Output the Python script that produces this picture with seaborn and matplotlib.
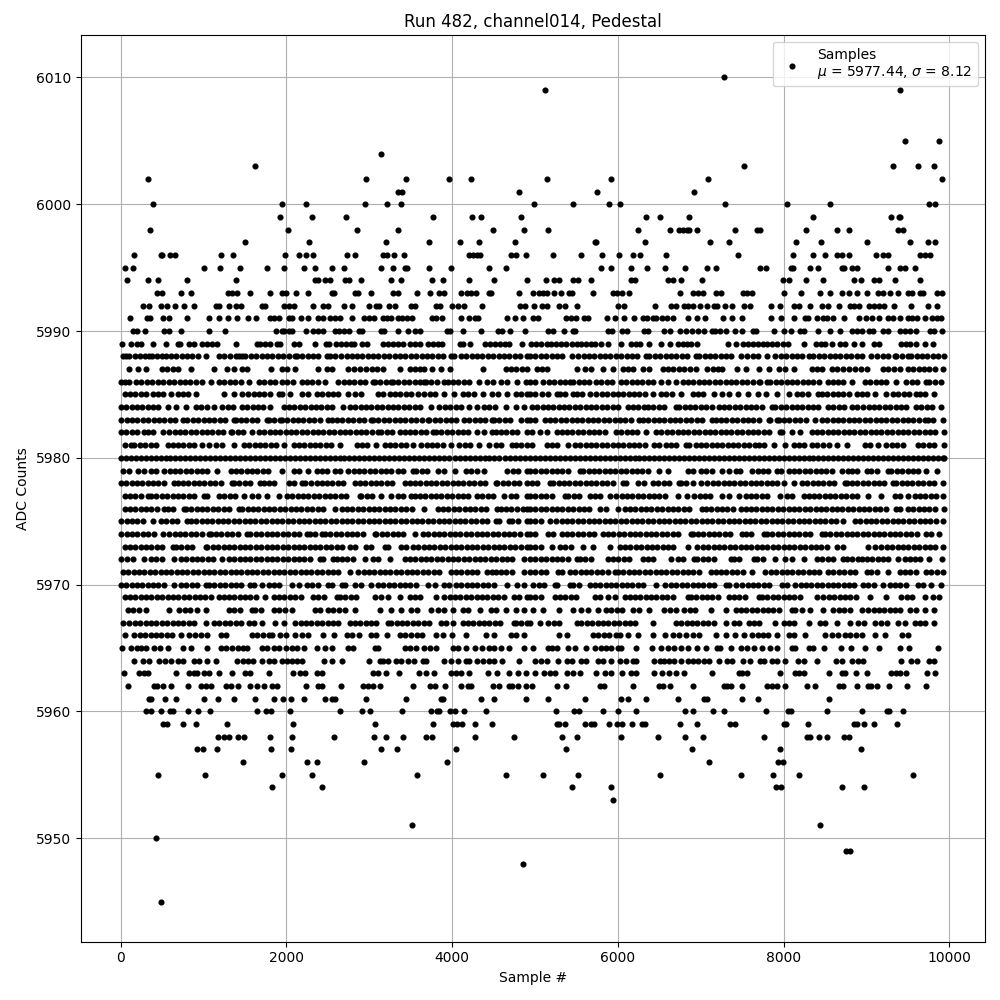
import pandas as pd
import seaborn as sns
import matplotlib
matplotlib.use('Agg')
import matplotlib.pyplot as plt

# sample numbers per ADC level
# (the dense rows are estimates, the real chart has far more overlapping points)
s6010 = [7277]
s6009 = [5120, 9410]
s6005 = [9460, 9870]
s6004 = [3145]
s6003 = [1625, 7520, 9315, 9625, 9820]
s6002 = [325, 2965, 3445, 3965, 4230, 5145, 5915, 7085, 9915]
s6001 = [3345, 3400, 4805, 5745, 6915]
s6000 = [385, 1950, 2240, 2950, 3215, 3385, 4990, 5460, 5890, 6025, 7290, 8035, 8565, 9760, 9830]
s5999 = [1925, 2310, 2720, 3770, 4240, 4350, 4830, 6340, 6505, 6855, 8360, 9300, 9390, 9400]
s5998 = [350, 2020, 2855, 3345, 4495, 4865, 5150, 6240, 6625, 6735, 6785, 6830, 6860, 6950, 7410, 7675, 7720, 8265, 8640, 8785, 9385, 9435]
s5997 = [1505, 2270, 3205, 3720, 4095, 4325, 4760, 5725, 5735, 6325, 7110, 7335, 8155, 8445, 9000, 9530, 9745, 9830]
s5996 = [155, 480, 495, 600, 650, 1215, 1360, 1985, 2155, 2230, 2325, 2735, 2830, 3170, 3215, 3300, 3420, 4205, 4255, 4300, 4335, 4710, 4770, 4890, 5215, 5555, 5805, 6010, 6180, 6265, 6580, 7445, 8110, 8350, 8505, 8640, 8700, 8785, 9110, 9195, 9265, 9650, 9700, 9770]
s5995 = [50, 145, 1000, 1195, 1435, 1760, 1965, 2215, 2340, 2555, 2690, 3135, 3280, 3435, 3460, 3725, 3990, 4445, 4650, 5795, 5915, 6155, 6350, 6565, 6805, 7070, 7180, 7710, 7785, 8085, 8110, 8315, 8410, 8700, 8725, 8830, 8880, 9265, 9410, 9460, 9580]
s5994 = [70, 325, 445, 805, 1385, 2345, 2375, 2470, 2530, 2710, 2760, 2900, 3265, 3385, 3760, 3890, 4205, 4510, 4900, 5130, 5230, 5290, 5460, 5520, 5675, 6155, 6205, 6600, 6660, 6760, 7010, 7990, 8060, 8265, 8480, 8855, 8930, 9095, 9145, 9340, 9650]
s5993 = [435, 495, 725, 845, 1290, 1340, 1400, 1565, 1795, 1940, 1990, 2120, 2265, 2545, 2570, 2830, 2860, 3025, 3290, 3340, 3580, 3735, 3835, 3905, 4110, 4180, 4230, 4290, 4445, 4470, 4805, 4976, 5048, 5096, 5145, 5230, 5315, 5410, 5445, 5700, 5940, 5990, 6050, 6135, 6745, 6905, 6965, 7025, 7180, 7240, 7505, 7555, 7615, 8010, 8215, 8435, 8565, 8700, 8785, 8880, 9000, 9135, 9195, 9280, 9375, 9495, 9545, 9640, 9685, 9855, 9915]
s5992 = [265, 335, 480, 555, 650, 760, 880, 1145, 1190, 1310, 1395, 1445, 1710, 1745, 1975, 2025, 2095, 2325, 2435, 2495, 2700, 2785, 3000, 3085, 3120, 3240, 3315, 3505, 3555, 3810, 3855, 4000, 4075, 4145, 4360, 4820, 4880, 4990, 5085, 5145, 5290, 5360, 5505, 6000, 6070, 6445, 6640, 6700, 6795, 6845, 6905, 6990, 7075, 7155, 7195, 7290, 7375, 7520, 7590, 7845, 7950, 8130, 8180, 8315, 8460, 8540, 8665, 8805, 8845, 8910, 9035, 9095, 9155, 9215, 9330, 9540, 9745, 9845]
s5991 = [110, 315, 350, 505, 580, 805, 1060, 1180, 1290, 1400, 1540, 1630, 1795, 1845, 1915, 2035, 2070, 2180, 2265, 2385, 2445, 2520, 2590, 2640, 2785, 2940, 3000, 3060, 3160, 3215, 3265, 3340, 3400, 3460, 3520, 3760, 3810, 3880, 4110, 4205, 4280, 4315, 4665, 4760, 4855, 4975, 5035, 5375, 5435, 5495, 5590, 5640, 5870, 5965, 6070, 6195, 6300, 6350, 6420, 6455, 6530, 6590, 6660, 6845, 6950, 7050, 7265, 7375, 7495, 7845, 7965, 8120, 8255, 8290, 8400, 8480, 8520, 8590, 8725, 8905, 8990, 9070, 9145, 9265, 9315, 9400, 9505, 9555, 9615, 9700, 9795, 9855, 9905]
s5990 = [145, 195, 290, 520, 580, 725, 1060, 1255, 1870, 1940, 1975, 2025, 2070, 2240, 2315, 2375, 2435, 2580, 2630, 2700, 2750, 2870, 2915, 3145, 3180, 3340, 3470, 3545, 3615, 3940, 3975, 4130, 4345, 4555, 4605, 4700, 4880, 5155, 5215, 5350, 5460, 5485, 5880, 5930, 6050, 6110, 6315, 6360, 6555, 6625, 6745, 6820, 6890, 6965, 7035, 7130, 7170, 7230, 7300, 7410, 7495, 7625, 7665, 7880, 8010, 8085, 8195, 8240, 8410, 8565, 8685, 8820, 8880, 8950, 9025, 9075, 9205, 9265, 9410, 9470, 9530, 9600, 9770, 9820, 9915]
s5989 = [20, 120, 190, 240, 385, 540, 685, 710, 820, 880, 975, 1035, 1095, 1165, 1385, 1640, 1675, 1735, 1805, 1880, 1925, 2095, 2145, 2345, 2480, 2515, 2600, 2660, 2720, 2780, 2820, 2915, 2975, 3165, 3225, 3285, 3345, 3410, 3490, 3555, 3615, 3710, 3770, 3830, 3880, 4095, 4130, 4215, 4395, 4455, 4515, 4575, 4635, 4685, 4840, 4955, 5015, 5075, 5145, 5195, 5255, 5315, 5375, 5440, 5500, 5560, 5620, 5680, 5725, 5795, 5880, 6035, 6155, 6215, 6265, 6375, 6520, 6625, 6725, 6785, 6830, 6880, 6950, 7325, 7420, 7505, 7565, 7625, 7685, 7745, 7805, 7865, 7925, 7990, 8050, 8240, 8385, 8445, 8505, 8580, 8685, 8745, 8855, 8950, 9085, 9145, 9420, 9480, 9530, 9600, 9710, 9805]
s5988 = [25, 65, 105, 170, 235, 290, 345, 375, 440, 495, 545, 605, 670, 735, 800, 865, 930, 1025, 1185, 1250, 1320, 1385, 1425, 1465, 1505, 1570, 1635, 1700, 1765, 1830, 1895, 1960, 2025, 2105, 2125, 2190, 2255, 2320, 2385, 2485, 2525, 2590, 2655, 2725, 2785, 2850, 2915, 2980, 3045, 3110, 3175, 3240, 3305, 3370, 3435, 3500, 3565, 3630, 3695, 3760, 3825, 3890, 3985, 4025, 4105, 4170, 4235, 4300, 4365, 4430, 4495, 4560, 4625, 4690, 4755, 4820, 4905, 4940, 5005, 5070, 5135, 5200, 5265, 5330, 5440, 5520, 5585, 5650, 5715, 5780, 5845, 5910, 5975, 6040, 6105, 6170, 6235, 6340, 6380, 6445, 6510, 6575, 6640, 6705, 6770, 6835, 6940, 6980, 7045, 7110, 7175, 7240, 7305, 7370, 7480, 7560, 7625, 7690, 7800, 7900, 7965, 8030, 8095, 8160, 8225, 8300, 8360, 8425, 8490, 8555, 8620, 8685, 8750, 8815, 8880, 8945, 9060, 9125, 9200, 9260, 9340, 9360, 9430, 9500, 9540, 9605, 9670, 9735, 9800, 9865, 9940]
s5987 = [105, 205, 310, 500, 560, 625, 685, 850, 1130, 1285, 1365, 1465, 1525, 1810, 1945, 2010, 2105, 2385, 2485, 2545, 2745, 2810, 2885, 2965, 3030, 3095, 3165, 3365, 3485, 3550, 3615, 3665, 3755, 3865, 3970, 4370, 4645, 4710, 4775, 4840, 4905, 5020, 5085, 5140, 5500, 5600, 5680, 5820, 5940, 6060, 6125, 6180, 6300, 6380, 6540, 6605, 6670, 6735, 6800, 6865, 6940, 7080, 7145, 7210, 7260, 7440, 7540, 7700, 7820, 7940, 8020, 8120, 8340, 8400, 8460, 8580, 8640, 8720, 8790, 8860, 8930, 9000, 9200, 9265, 9330, 9400, 9500, 9565, 9630, 9695, 9760, 9825, 9920]
s5986 = [0, 50, 100, 185, 250, 315, 380, 445, 510, 585, 645, 710, 775, 840, 905, 985, 1085, 1185, 1250, 1315, 1380, 1445, 1545, 1665, 1730, 1795, 1865, 1945, 2010, 2075, 2185, 2245, 2310, 2375, 2465, 2625, 2690, 2755, 2820, 2885, 2950, 3045, 3065, 3130, 3195, 3265, 3285, 3350, 3415, 3480, 3545, 3610, 3665, 3685, 3750, 3815, 3905, 3945, 4010, 4075, 4140, 4205, 4325, 4425, 4490, 4585, 4665, 4785, 4885, 4940, 5000, 5100, 5165, 5230, 5295, 5360, 5420, 5460, 5525, 5590, 5655, 5740, 5800, 5865, 5930, 6040, 6100, 6165, 6230, 6295, 6360, 6425, 6520, 6600, 6700, 6780, 6845, 6910, 6975, 7040, 7105, 7170, 7235, 7300, 7365, 7430, 7495, 7560, 7625, 7700, 7720, 7800, 7840, 7905, 7970, 8035, 8100, 8165, 8230, 8295, 8360, 8425, 8540, 8600, 8660, 8720, 8820, 8980, 9045, 9110, 9180, 9240, 9360, 9480, 9545, 9610, 9720, 9760, 9825, 9900]
s5985 = [45, 110, 175, 245, 305, 385, 445, 510, 605, 685, 750, 815, 905, 1245, 1365, 1465, 1530, 1605, 1665, 1730, 1795, 1905, 1945, 2045, 2185, 2265, 2365, 2430, 2495, 2560, 2625, 2745, 2825, 2905, 3105, 3165, 3245, 3310, 3375, 3440, 3505, 3585, 3665, 3730, 3795, 3905, 4025, 4125, 4190, 4265, 4370, 4485, 4550, 4665, 4765, 4830, 4905, 4940, 5005, 5080, 5160, 5260, 5300, 5365, 5460, 5500, 5565, 5660, 5740, 5805, 5870, 5935, 6000, 6065, 6130, 6195, 6260, 6325, 6420, 6520, 6585, 6650, 6760, 6900, 6965, 7030, 7160, 7260, 7340, 7450, 7570, 7685, 7790, 7920, 8060, 8160, 8225, 8290, 8420, 8460, 8525, 8590, 8655, 8720, 8785, 8880, 8940, 9005, 9100, 9230, 9320, 9385, 9450, 9515, 9600, 9640, 9705, 9820]
s5984 = [0, 65, 130, 195, 260, 325, 390, 455, 565, 670, 790, 905, 970, 1045, 1125, 1225, 1290, 1355, 1465, 1525, 1590, 1655, 1720, 1805, 1965, 2030, 2095, 2160, 2225, 2290, 2355, 2420, 2485, 2550, 2685, 2765, 2830, 2895, 2960, 3025, 3090, 3155, 3220, 3285, 3350, 3415, 3480, 3545, 3610, 3745, 3845, 3910, 3975, 4040, 4105, 4205, 4295, 4385, 4450, 4515, 4645, 4765, 4865, 4960, 5025, 5090, 5155, 5220, 5285, 5350, 5415, 5480, 5545, 5610, 5675, 5740, 5805, 5870, 5935, 6000, 6120, 6180, 6245, 6320, 6360, 6425, 6490, 6555, 6700, 6740, 6805, 6870, 6935, 7000, 7065, 7130, 7220, 7280, 7345, 7410, 7475, 7540, 7605, 7670, 7735, 7860, 7900, 7965, 8030, 8095, 8160, 8225, 8290, 8355, 8420, 8540, 8600, 8665, 8730, 8820, 8880, 8960, 9025, 9090, 9155, 9220, 9285, 9350, 9415, 9480, 9600, 9660, 9725, 9790, 9900]
s5983 = [5, 70, 135, 200, 265, 330, 395, 460, 525, 590, 655, 745, 805, 870, 935, 1000, 1065, 1130, 1195, 1260, 1365, 1385, 1450, 1515, 1580, 1645, 1765, 1785, 1850, 1925, 1945, 2010, 2075, 2140, 2205, 2270, 2335, 2400, 2505, 2545, 2610, 2675, 2740, 2805, 2870, 2935, 3025, 3045, 3110, 3175, 3240, 3305, 3370, 3435, 3500, 3565, 3630, 3705, 3725, 3790, 3855, 3920, 3985, 4050, 4145, 4205, 4270, 4335, 4400, 4485, 4505, 4570, 4635, 4700, 4825, 4905, 4940, 5005, 5120, 5180, 5245, 5310, 5375, 5440, 5505, 5570, 5635, 5700, 5765, 5830, 5895, 5960, 6025, 6090, 6155, 6260, 6300, 6365, 6430, 6495, 6560, 6625, 6690, 6755, 6820, 6885, 6950, 7015, 7140, 7180, 7245, 7310, 7375, 7440, 7505, 7570, 7635, 7700, 7820, 7840, 7920, 7940, 8005, 8070, 8135, 8200, 8265, 8380, 8460, 8525, 8590, 8655, 8720, 8785, 8850, 8915, 8980, 9045, 9110, 9175, 9240, 9305, 9370, 9435, 9500, 9565, 9630, 9700, 9740, 9805, 9920]
s5982 = [0, 65, 130, 195, 285, 325, 390, 505, 585, 650, 715, 780, 845, 910, 975, 1040, 1105, 1170, 1235, 1325, 1345, 1410, 1475, 1585, 1665, 1730, 1795, 1860, 1925, 1990, 2055, 2120, 2185, 2250, 2315, 2380, 2445, 2510, 2575, 2640, 2705, 2770, 2835, 2900, 2965, 3030, 3105, 3145, 3210, 3275, 3365, 3425, 3490, 3555, 3620, 3685, 3765, 3805, 3870, 3935, 4000, 4065, 4130, 4195, 4305, 4385, 4485, 4525, 4590, 4655, 4720, 4785, 4905, 4960, 5060, 5140, 5260, 5320, 5385, 5450, 5515, 5580, 5645, 5710, 5775, 5840, 5980, 6040, 6105, 6170, 6235, 6340, 6460, 6525, 6590, 6655, 6720, 6785, 6850, 6915, 6980, 7045, 7110, 7175, 7240, 7305, 7370, 7435, 7500, 7565, 7630, 7695, 7760, 7825, 7960, 7980, 8100, 8200, 8340, 8400, 8465, 8530, 8595, 8660, 8725, 8790, 8855, 8920, 8985, 9050, 9115, 9180, 9245, 9310, 9375, 9440, 9505, 9570, 9635, 9700, 9765, 9830, 9940]
s5981 = [45, 125, 165, 230, 295, 360, 425, 565, 625, 690, 755, 820, 885, 985, 1065, 1145, 1225, 1365, 1485, 1550, 1615, 1680, 1745, 1810, 1875, 1965, 2085, 2150, 2215, 2280, 2345, 2410, 2475, 2540, 2645, 2845, 2910, 2975, 3085, 3185, 3250, 3315, 3380, 3445, 3525, 3625, 3690, 3755, 3820, 3885, 3985, 4085, 4150, 4215, 4325, 4445, 4525, 4590, 4725, 4765, 4830, 4905, 4960, 5140, 5205, 5270, 5400, 5480, 5545, 5610, 5675, 5740, 5805, 5870, 5935, 6000, 6065, 6130, 6195, 6260, 6325, 6440, 6500, 6580, 6640, 6705, 6820, 6860, 6940, 7000, 7065, 7130, 7195, 7260, 7325, 7390, 7455, 7520, 7585, 7660, 7700, 7765, 7880, 8020, 8120, 8185, 8250, 8340, 8400, 8480, 8545, 8640, 8760, 8980, 9045, 9140, 9240, 9305, 9370, 9440, 9620, 9685, 9750, 9815, 9940]
s5980 = [0, 60, 120, 180, 240, 300, 360, 420, 480, 540, 600, 660, 720, 780, 840, 900, 960, 1020, 1080, 1140, 1200, 1260, 1320, 1380, 1440, 1500, 1560, 1620, 1680, 1740, 1800, 1860, 1920, 1980, 2040, 2100, 2160, 2220, 2280, 2340, 2400, 2460, 2520, 2580, 2640, 2700, 2760, 2820, 2880, 2940, 3000, 3060, 3120, 3180, 3240, 3300, 3360, 3420, 3480, 3540, 3600, 3660, 3720, 3780, 3840, 3900, 3960, 4030, 4090, 4150, 4210, 4270, 4330, 4390, 4450, 4510, 4570, 4640, 4700, 4760, 4820, 4880, 4940, 5000, 5060, 5120, 5180, 5240, 5300, 5360, 5420, 5480, 5540, 5600, 5660, 5720, 5780, 5840, 5900, 5960, 6020, 6080, 6140, 6200, 6260, 6320, 6380, 6440, 6500, 6560, 6620, 6680, 6740, 6800, 6860, 6920, 6980, 7040, 7100, 7160, 7220, 7280, 7340, 7400, 7460, 7520, 7580, 7640, 7700, 7760, 7820, 7880, 7940, 8000, 8060, 8120, 8180, 8240, 8300, 8360, 8420, 8480, 8540, 8600, 8660, 8720, 8780, 8840, 8900, 8960, 9020, 9080, 9140, 9200, 9260, 9320, 9380, 9440, 9500, 9560, 9620, 9680, 9740, 9800, 9860, 9920, 9940]
s5979 = [25, 105, 205, 285, 365, 425, 525, 590, 655, 720, 785, 850, 915, 980, 1045, 1165, 1325, 1390, 1455, 1520, 1585, 1650, 1715, 1780, 1945, 2085, 2150, 2265, 2365, 2425, 2485, 2585, 2650, 2745, 2810, 2875, 2940, 3005, 3070, 3135, 3200, 3265, 3345, 3405, 3525, 3565, 3630, 3695, 3825, 3905, 4030, 4165, 4230, 4295, 4385, 4665, 4730, 4795, 4905, 4940, 5005, 5070, 5135, 5200, 5265, 5330, 5395, 5540, 5580, 5645, 5710, 5775, 5840, 5905, 5970, 6035, 6100, 6165, 6230, 6295, 6360, 6500, 6610, 6840, 6900, 7000, 7065, 7130, 7260, 7340, 7420, 7470, 7620, 7685, 7750, 7815, 7920, 7970, 8060, 8125, 8190, 8255, 8320, 8385, 8450, 8515, 8580, 8700, 8780, 8820, 8885, 9000, 9060, 9125, 9260, 9300, 9365, 9430, 9495, 9560, 9625, 9720, 9850]
s5978 = [0, 65, 130, 195, 260, 325, 390, 455, 520, 645, 685, 750, 815, 880, 945, 1010, 1075, 1140, 1205, 1345, 1365, 1430, 1495, 1560, 1685, 1725, 1790, 1855, 2025, 2085, 2185, 2225, 2290, 2365, 2425, 2490, 2555, 2620, 2685, 2825, 2885, 2950, 3015, 3080, 3145, 3210, 3275, 3425, 3485, 3550, 3615, 3680, 3745, 3810, 3875, 3940, 4005, 4070, 4135, 4200, 4265, 4330, 4395, 4525, 4545, 4610, 4675, 4740, 4805, 4905, 4960, 5025, 5180, 5220, 5285, 5350, 5415, 5480, 5545, 5610, 5675, 5740, 5805, 5870, 5935, 6060, 6100, 6240, 6310, 6420, 6485, 6550, 6615, 6740, 6760, 6825, 6900, 7000, 7080, 7145, 7210, 7275, 7340, 7405, 7470, 7535, 7600, 7665, 7730, 7795, 7860, 7925, 8000, 8120, 8220, 8285, 8350, 8415, 8480, 8545, 8610, 8740, 8760, 8825, 8890, 8955, 9020, 9085, 9150, 9215, 9320, 9360, 9425, 9490, 9555, 9620, 9685, 9750, 9815, 9920]
s5977 = [45, 110, 175, 240, 325, 365, 430, 495, 560, 625, 690, 755, 820, 885, 1005, 1045, 1185, 1250, 1315, 1380, 1485, 1585, 1655, 1765, 1905, 2005, 2070, 2135, 2200, 2265, 2330, 2395, 2460, 2525, 2590, 2655, 2720, 2885, 2905, 2970, 3035, 3145, 3265, 3345, 3410, 3505, 3545, 3610, 3675, 3740, 3805, 3870, 3935, 4000, 4065, 4130, 4195, 4305, 4365, 4430, 4495, 4625, 4705, 4770, 4905, 4940, 5005, 5070, 5135, 5200, 5360, 5400, 5465, 5530, 5660, 5720, 5785, 5900, 5980, 6045, 6110, 6175, 6240, 6305, 6370, 6435, 6500, 6565, 6720, 6830, 6920, 6985, 7050, 7115, 7260, 7340, 7460, 7540, 7605, 7670, 7735, 7800, 7960, 8040, 8105, 8240, 8300, 8365, 8430, 8495, 8560, 8625, 8690, 8755, 8820, 8885, 9020, 9180, 9340, 9405, 9500, 9580, 9645, 9710, 9775, 9840, 9920]
s5976 = [45, 110, 175, 240, 305, 370, 435, 525, 565, 630, 765, 785, 850, 915, 980, 1045, 1110, 1175, 1240, 1305, 1425, 1465, 1530, 1595, 1660, 1725, 1790, 1855, 1920, 1985, 2050, 2115, 2180, 2245, 2310, 2375, 2440, 2585, 2665, 2730, 2795, 2860, 2925, 2990, 3055, 3120, 3185, 3250, 3315, 3380, 3445, 3510, 3665, 3825, 3890, 3955, 4020, 4085, 4150, 4215, 4280, 4345, 4410, 4545, 4585, 4645, 4705, 4785, 4850, 4905, 4940, 5005, 5070, 5135, 5200, 5265, 5330, 5395, 5460, 5525, 5590, 5655, 5780, 5860, 6000, 6080, 6145, 6210, 6275, 6340, 6405, 6470, 6535, 6600, 6665, 6730, 6795, 6860, 7020, 7060, 7125, 7190, 7255, 7320, 7385, 7480, 7540, 7605, 7670, 7735, 7800, 7865, 7930, 7995, 8060, 8125, 8190, 8255, 8320, 8385, 8450, 8515, 8580, 8645, 8710, 8775, 8840, 8905, 8970, 9035, 9100, 9165, 9230, 9360, 9400, 9500, 9565, 9630, 9695, 9760, 9825, 9940]
s5975 = [5, 70, 135, 200, 265, 385, 485, 550, 615, 680, 805, 845, 910, 975, 1040, 1105, 1170, 1235, 1300, 1365, 1430, 1495, 1560, 1625, 1690, 1755, 1820, 1885, 1950, 2015, 2080, 2145, 2210, 2275, 2340, 2405, 2470, 2535, 2600, 2665, 2730, 2795, 2860, 2925, 2990, 3055, 3120, 3185, 3250, 3315, 3380, 3445, 3510, 3575, 3640, 3705, 3770, 3835, 3900, 3965, 4030, 4095, 4160, 4225, 4290, 4355, 4420, 4525, 4565, 4685, 4725, 4790, 4905, 4940, 5005, 5070, 5180, 5250, 5320, 5385, 5450, 5515, 5580, 5645, 5710, 5775, 5840, 5905, 5970, 6035, 6100, 6165, 6230, 6295, 6360, 6425, 6490, 6555, 6620, 6685, 6750, 6815, 6880, 6945, 7010, 7075, 7140, 7205, 7270, 7335, 7400, 7465, 7530, 7595, 7660, 7725, 7790, 7855, 7920, 7985, 8050, 8115, 8180, 8245, 8310, 8375, 8440, 8505, 8570, 8635, 8720, 8860, 8925, 8990, 9055, 9120, 9185, 9250, 9315, 9380, 9445, 9510, 9575, 9640, 9705, 9770, 9835, 9920]
s5974 = [5, 70, 135, 200, 265, 330, 395, 505, 585, 650, 715, 780, 845, 910, 975, 1065, 1085, 1150, 1215, 1280, 1345, 1410, 1525, 1565, 1630, 1695, 1760, 1825, 1890, 1955, 2020, 2085, 2150, 2245, 2285, 2350, 2425, 2465, 2530, 2595, 2660, 2725, 2790, 2855, 2920, 3065, 3085, 3150, 3215, 3280, 3345, 3410, 3545, 3645, 3710, 3775, 3840, 3905, 3970, 4035, 4100, 4165, 4230, 4295, 4360, 4425, 4490, 4555, 4620, 4685, 4750, 4815, 4905, 4940, 5005, 5160, 5220, 5320, 5385, 5450, 5515, 5580, 5645, 5710, 5820, 5880, 5945, 6010, 6075, 6140, 6205, 6270, 6335, 6400, 6465, 6530, 6595, 6660, 6725, 6880, 6900, 6965, 7030, 7095, 7160, 7225, 7290, 7355, 7500, 7540, 7600, 7760, 7800, 7865, 7930, 7995, 8060, 8125, 8190, 8255, 8320, 8460, 8500, 8565, 8630, 8695, 8760, 8825, 8890, 8955, 9020, 9085, 9150, 9215, 9280, 9345, 9410, 9475, 9540, 9605, 9720, 9780, 9880]
s5973 = [45, 110, 175, 240, 305, 370, 435, 500, 625, 665, 730, 795, 860, 1025, 1045, 1110, 1175, 1240, 1305, 1370, 1435, 1500, 1565, 1630, 1695, 1760, 1825, 1890, 1955, 2020, 2085, 2150, 2215, 2280, 2345, 2410, 2475, 2540, 2605, 2670, 2765, 2825, 2965, 3025, 3185, 3225, 3385, 3445, 3525, 3590, 3655, 3720, 3785, 3850, 3915, 3980, 4045, 4110, 4175, 4240, 4305, 4370, 4435, 4500, 4565, 4630, 4695, 4760, 4825, 4905, 4940, 5005, 5070, 5200, 5300, 5365, 5430, 5580, 5700, 5900, 6020, 6085, 6150, 6215, 6280, 6345, 6410, 6475, 6540, 6605, 6670, 6840, 6960, 7025, 7090, 7155, 7220, 7285, 7350, 7415, 7480, 7545, 7610, 7675, 7740, 7805, 7870, 7935, 8000, 8065, 8130, 8195, 8260, 8325, 8390, 8455, 8520, 8640, 8720, 9020, 9100, 9180, 9245, 9310, 9375, 9440, 9505, 9570, 9635, 9700, 9765, 9830, 9920]
s5972 = [5, 70, 145, 275, 365, 430, 495, 645, 725, 790, 855, 920, 985, 1050, 1115, 1225, 1305, 1370, 1435, 1500, 1565, 1630, 1695, 1760, 1825, 1890, 1955, 2020, 2085, 2150, 2215, 2280, 2405, 2445, 2565, 2605, 2670, 2735, 2800, 2945, 3045, 3110, 3245, 3425, 3490, 3555, 3620, 3685, 3750, 3815, 3880, 3945, 4010, 4075, 4140, 4205, 4270, 4335, 4400, 4465, 4530, 4595, 4660, 4725, 4865, 4940, 5005, 5070, 5135, 5200, 5265, 5330, 5395, 5500, 5540, 5605, 5670, 5880, 5940, 6005, 6070, 6135, 6300, 6360, 6425, 6640, 6720, 6785, 6920, 6960, 7025, 7090, 7155, 7360, 7400, 7465, 7640, 7680, 7745, 7900, 8020, 8100, 8240, 8400, 8465, 8530, 8595, 8720, 8760, 8825, 8900, 8940, 9005, 9070, 9135, 9200, 9265, 9380, 9460, 9520, 9585, 9650, 9760, 9910]
s5971 = [25, 90, 155, 220, 285, 350, 415, 480, 545, 610, 675, 740, 805, 870, 935, 1000, 1065, 1130, 1195, 1260, 1325, 1390, 1455, 1520, 1585, 1650, 1715, 1780, 1845, 1910, 1975, 2040, 2105, 2170, 2235, 2300, 2365, 2430, 2495, 2560, 2625, 2765, 2865, 2930, 2995, 3060, 3125, 3190, 3255, 3320, 3385, 3450, 3515, 3580, 3645, 3710, 3775, 3840, 3985, 4045, 4110, 4175, 4240, 4305, 4425, 4485, 4525, 4590, 4655, 4720, 4865, 4940, 5005, 5070, 5135, 5280, 5330, 5420, 5485, 5550, 5615, 5680, 5745, 5810, 5875, 5960, 6000, 6065, 6130, 6195, 6260, 6325, 6390, 6455, 6520, 6585, 6650, 6715, 6780, 6845, 6910, 6975, 7120, 7180, 7245, 7310, 7375, 7440, 7505, 7620, 7780, 7845, 7910, 7975, 8040, 8105, 8170, 8235, 8300, 8365, 8430, 8540, 8600, 8665, 8730, 8795, 8860, 9000, 9060, 9125, 9260, 9400, 9465, 9530, 9595, 9720, 9780, 9845, 9920]
s5970 = [0, 65, 130, 195, 260, 325, 390, 455, 520, 645, 725, 790, 855, 920, 1025, 1065, 1130, 1195, 1260, 1325, 1390, 1455, 1565, 1605, 1705, 1785, 1850, 1915, 2065, 2145, 2245, 2310, 2375, 2505, 2545, 2665, 2705, 2825, 2905, 3025, 3105, 3170, 3235, 3300, 3365, 3430, 3495, 3560, 3705, 3790, 3905, 3965, 4045, 4110, 4175, 4240, 4305, 4370, 4435, 4500, 4665, 4785, 4865, 4980, 5045, 5110, 5240, 5260, 5420, 5460, 5525, 5660, 5720, 5785, 5850, 5915, 5980, 6045, 6110, 6175, 6240, 6305, 6460, 6570, 6640, 6705, 6770, 6835, 6900, 6965, 7030, 7095, 7160, 7300, 7340, 7420, 7500, 7565, 7630, 7695, 7760, 7825, 7980, 8040, 8140, 8205, 8270, 8335, 8400, 8465, 8530, 8595, 8660, 8725, 8790, 8855, 8960, 9020, 9085, 9200, 9280, 9345, 9410, 9475, 9620, 9680, 9780, 9900]
s5969 = [45, 110, 175, 240, 305, 370, 435, 500, 565, 630, 695, 760, 825, 890, 955, 1020, 1085, 1185, 1245, 1305, 1370, 1435, 1500, 1565, 1630, 1745, 1845, 1910, 1975, 2040, 2105, 2170, 2325, 2385, 2450, 2605, 2645, 2710, 2775, 2840, 3065, 3145, 3225, 3365, 3485, 3550, 3615, 3805, 3905, 3970, 4035, 4100, 4165, 4230, 4295, 4360, 4425, 4490, 4555, 4620, 4745, 4805, 4905, 4940, 5005, 5070, 5240, 5300, 5365, 5430, 5495, 5720, 5780, 5880, 5960, 6080, 6140, 6205, 6270, 6335, 6400, 6465, 6530, 6595, 6660, 6840, 6880, 6945, 7010, 7075, 7140, 7205, 7340, 7400, 7465, 7530, 7700, 7740, 7805, 7870, 7935, 8000, 8065, 8130, 8195, 8400, 8480, 8545, 8610, 8675, 8740, 8805, 8870, 9040, 9240, 9420, 9485, 9550, 9700, 9800, 9880]
s5968 = [85, 150, 215, 305, 585, 705, 770, 835, 925, 1030, 1305, 1370, 1435, 1585, 1625, 1690, 1845, 1905, 1985, 2065, 2345, 2410, 2505, 2565, 2630, 2705, 2825, 3125, 3265, 3385, 3505, 3570, 3745, 3825, 3905, 4005, 4125, 4185, 4330, 4465, 4530, 4645, 4765, 4865, 4980, 5100, 5290, 5460, 5560, 5640, 5760, 5860, 5920, 5985, 6050, 6180, 6260, 6380, 6560, 6625, 6700, 6800, 6865, 6930, 7120, 7300, 7420, 7485, 7550, 7615, 7680, 7745, 7810, 7875, 7940, 8100, 8140, 8220, 8320, 8470, 8600, 8665, 8730, 8795, 8940, 9020, 9085, 9150, 9215, 9280, 9345, 9410, 9520, 9600, 9710, 9810]
s5967 = [30, 105, 170, 235, 300, 365, 430, 495, 560, 625, 690, 755, 820, 885, 1025, 1125, 1190, 1255, 1320, 1385, 1450, 1545, 1605, 1705, 1865, 1965, 2105, 2170, 2235, 2300, 2365, 2430, 2495, 2560, 2625, 2765, 2825, 2890, 2955, 3020, 3085, 3225, 3265, 3330, 3395, 3460, 3525, 3590, 3655, 3720, 3865, 3925, 4005, 4125, 4190, 4255, 4320, 4385, 4450, 4515, 4580, 4745, 4765, 4830, 4905, 4940, 5060, 5160, 5225, 5290, 5500, 5560, 5625, 5690, 5755, 5820, 5885, 5950, 6015, 6080, 6145, 6210, 6420, 6700, 6765, 6830, 6895, 6960, 7025, 7090, 7155, 7300, 7400, 7465, 7580, 7640, 7705, 7900, 8000, 8065, 8130, 8300, 8440, 8505, 8640, 8800, 8900, 8965, 9100, 9180, 9245, 9380, 9460, 9580, 9645, 9710, 9820]
s5966 = [55, 165, 230, 295, 365, 425, 490, 555, 620, 725, 825, 890, 965, 1045, 1205, 1275, 1585, 1650, 1715, 1785, 1830, 1925, 1990, 2105, 2185, 2265, 2435, 2570, 2725, 2785, 2880, 3025, 3085, 3215, 3365, 3425, 3505, 3575, 3635, 3805, 3885, 4000, 4165, 4405, 4505, 4705, 4770, 4865, 5290, 5380, 5700, 5765, 5830, 5895, 5980, 6020, 6120, 6240, 6420, 6565, 6660, 6740, 6820, 6900, 6980, 7180, 7310, 7410, 7520, 7620, 7685, 7750, 7815, 7920, 8060, 8125, 8260, 8500, 8580, 8660, 8740, 8805, 8870, 8940, 9100, 9220, 9430, 9500]
s5965 = [10, 125, 190, 245, 305, 405, 470, 565, 745, 845, 1045, 1205, 1265, 1345, 1410, 1475, 1525, 1705, 1770, 1845, 1905, 1990, 2065, 2125, 2210, 2365, 2470, 2545, 2745, 2805, 3065, 3105, 3425, 3490, 3565, 3655, 3730, 3805, 4005, 4070, 4165, 4270, 4365, 4445, 4510, 4585, 4690, 4870, 4970, 5160, 5200, 5270, 5400, 5480, 5620, 5720, 5790, 5860, 5920, 6000, 6040, 6215, 6410, 6515, 6600, 6680, 6760, 6850, 6960, 7065, 7190, 7235, 7370, 7480, 7560, 7640, 7740, 7830, 7920, 8100, 8140, 8300, 8360, 8485, 8690, 8810, 8980, 9155, 9400, 9515, 9860]
s5964 = [155, 265, 345, 465, 530, 610, 685, 745, 885, 950, 1045, 1150, 1405, 1470, 1535, 1600, 1705, 1785, 1850, 1945, 2005, 2065, 2125, 2185, 2455, 2555, 2675, 3000, 3125, 3165, 3230, 3325, 3385, 3470, 3540, 3645, 3685, 3905, 3985, 4065, 4165, 4205, 4305, 4370, 4445, 4505, 4605, 4810, 5000, 5070, 5140, 5280, 5380, 5440, 5560, 5620, 5760, 5820, 5920, 6020, 6100, 6180, 6220, 6440, 6505, 6560, 6620, 6680, 6760, 6840, 6905, 6970, 7035, 7100, 7220, 7320, 7380, 7510, 7595, 7720, 7760, 7860, 7925, 8020, 8170, 8245, 8400, 8630, 8700, 8830, 8900, 8960, 9420, 9540, 9610, 9750, 9810]
s5963 = [35, 225, 275, 325, 670, 825, 885, 925, 1005, 1065, 1190, 1340, 1505, 1565, 1785, 2075, 2165, 2225, 2365, 2425, 3045, 3110, 3205, 3355, 3605, 3685, 3780, 3985, 4045, 4105, 4205, 4430, 4535, 4690, 4790, 4895, 5000, 5110, 5175, 5240, 5380, 5460, 5540, 5740, 5840, 5920, 6050, 6160, 6220, 6440, 6530, 6620, 6700, 6800, 7140, 7460, 7500, 7560, 7955, 8140, 8190, 8240, 8550, 8700, 8740, 8870, 9010, 9300, 9350, 9400, 9480, 9725, 9830]
s5962 = [85, 405, 435, 505, 610, 810, 965, 1025, 1085, 1265, 1325, 1415, 1565, 1645, 1725, 1825, 1885, 2230, 2385, 2425, 2660, 2925, 2985, 3045, 3130, 3530, 3730, 3790, 3910, 4105, 4185, 4225, 4490, 4560, 4685, 4725, 4790, 4895, 4960, 5270, 5375, 5780, 5830, 6180, 6490, 6540, 6625, 6910, 7280, 7320, 7360, 7500, 7800, 7860, 7920, 8015, 8280, 8375, 8670, 8720, 8890, 9020, 9060, 9130, 9270, 9490, 9720]
s5961 = [335, 365, 530, 670, 1010, 1175, 1370, 1620, 1850, 1955, 2050, 2210, 2470, 2555, 2580, 2965, 3445, 3865, 3885, 4345, 4500, 4885, 5150, 5605, 6035, 6120, 6335, 6730, 7040, 7070, 7500, 7690, 8545]
s5960 = [300, 370, 490, 590, 625, 815, 935, 1075, 1645, 1750, 1810, 2040, 2650, 2915, 3010, 3395, 3745, 3815, 3840, 3970, 4030, 4140, 4405, 5255, 5470, 5530, 5820, 6000, 6215, 6815, 6910, 7150, 7285, 7790, 8055, 8090, 8520, 8940, 9250, 9275, 9445]
s5959 = [505, 555, 755, 910, 1285, 2075, 3070, 3770, 4010, 4055, 4115, 4270, 4475, 5265, 5290, 5365, 5605, 5675, 5710, 5890, 5990, 6050, 6170, 6290, 6325, 6755, 6960, 7355, 7415, 8005, 8030, 8290, 8845, 8890, 8975, 9085, 9370]
s5958 = [1175, 1250, 1310, 1415, 1490, 1800, 2065, 2570, 3060, 3205, 3410, 3685, 3755, 4270, 4740, 5330, 5510, 6035, 6480, 6805, 7030, 7765, 8280, 8315, 8425, 8520, 8725, 8785]
s5957 = [925, 995, 1165, 1810, 2050, 3145, 3335, 4045, 5375, 6890, 7955, 8930]
s5956 = [1475, 2245, 2365, 2940, 3935, 7105, 7930, 7990]
s5955 = [445, 1020, 1945, 2305, 3575, 4655, 5100, 5520, 6505, 7490, 7870, 8185, 9565]
s5954 = [1825, 2425, 5450, 5915, 7910, 7970, 8710, 8965]
s5953 = [5940]
s5951 = [3515, 8435]
s5950 = [430]
s5949 = [8750, 8795]
s5948 = [4860]
s5945 = [480]

adc_levels = [6010, 6009, 6005, 6004, 6003, 6002, 6001, 6000, 5999, 5998, 5997, 5996, 5995, 5994, 5993, 5992, 5991, 5990,
	5989, 5988, 5987, 5986, 5985, 5984, 5983, 5982, 5981, 5980, 5979, 5978, 5977, 5976, 5975, 5974, 5973, 5972, 5971, 5970,
	5969, 5968, 5967, 5966, 5965, 5964, 5963, 5962, 5961, 5960, 5959, 5958, 5957, 5956, 5955, 5954, 5953, 5951, 5950, 5949, 5948, 5945]
level_samples = [s6010, s6009, s6005, s6004, s6003, s6002, s6001, s6000, s5999, s5998, s5997, s5996, s5995, s5994, s5993, s5992, s5991, s5990,
	s5989, s5988, s5987, s5986, s5985, s5984, s5983, s5982, s5981, s5980, s5979, s5978, s5977, s5976, s5975, s5974, s5973, s5972, s5971, s5970,
	s5969, s5968, s5967, s5966, s5965, s5964, s5963, s5962, s5961, s5960, s5959, s5958, s5957, s5956, s5955, s5954, s5953, s5951, s5950, s5949, s5948, s5945]

rows = []
for level, samples in zip(adc_levels, level_samples):
	for s in samples:
		rows.append((s, level))
df = pd.DataFrame(rows, columns=['sample', 'adc'])

fig, ax = plt.subplots(figsize=(10, 10))
sns.scatterplot(data=df, x='sample', y='adc', ax=ax, marker='.', s=46, color='k',
		edgecolor='k', linewidth=1, zorder=2,
		label='Samples\n$\\mu$ = 5977.44, $\\sigma$ = 8.12')
ax.grid(True)
ax.set_xlim(-480, 10430)
ax.set_ylim(5941.85, 6013.35)
ax.set_xlabel('Sample #')
ax.set_ylabel('ADC Counts')
ax.set_title('Run 482, channel014, Pedestal')
ax.legend(loc='upper right')
fig.subplots_adjust(left=0.081, right=0.985, top=0.965, bottom=0.0585)
fig.savefig('out.png', dpi=100)
